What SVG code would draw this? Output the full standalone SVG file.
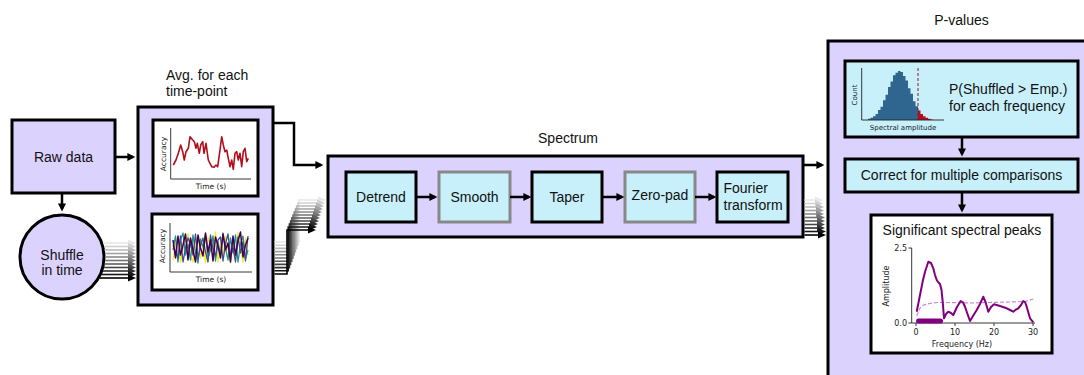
<svg xmlns="http://www.w3.org/2000/svg" width="1084" height="375" viewBox="0 0 1084 375">
<style>
.lbl{font-family:"Liberation Sans",Arial,sans-serif;font-size:14px;fill:#111}
.mid{text-anchor:middle}
.box{fill:#dcd2fe;stroke:#000;stroke-width:3}
.cy{fill:#c8f0fa;stroke:#000;stroke-width:3}
.cyg{fill:#c8f0fa;stroke:#888;stroke-width:3}
.wh{fill:#fff;stroke:#000;stroke-width:3}
.ax{fill:none;stroke:#222;stroke-width:0.9}
.tk{font-family:"DejaVu Sans",sans-serif;font-size:8px;fill:#222}
.con{fill:none;stroke:#000;stroke-width:2.5}
</style>
<defs>
<marker id="ah" viewBox="0 0 10 10" refX="7" refY="5" markerWidth="9" markerHeight="8" markerUnits="userSpaceOnUse" orient="auto">
<path d="M0,0 L10,5 L0,10 z" fill="#000"/>
</marker>
</defs>
<g id="raw-data">
<rect class="box" x="12" y="120" width="103" height="73"/>
<text class="lbl mid" x="63.5" y="162">Raw data</text>
</g>
<g id="shuffle">
<circle class="box" cx="62" cy="257" r="42"/>
<text class="lbl mid" x="62" y="259.5">Shuffle</text>
<text class="lbl mid" x="62" y="274.5">in time</text>
</g>
<g id="avg">
<text class="lbl" x="166" y="80">Avg. for each</text>
<text class="lbl" x="166" y="96">time-point</text>
<rect class="box" x="138" y="107" width="135" height="198"/>
</g>
<g id="plot-empirical">
<rect class="wh" x="153" y="120" width="105" height="76"/>
<path class="ax" d="M170.7,128 V179 H251"/>
<text class="tk" style="font-size:7.5px" transform="translate(165.5,154) rotate(-90)" text-anchor="middle">Accuracy</text>
<text class="tk" style="font-size:7.5px" x="211" y="189" text-anchor="middle">Time (s)</text>
<polyline fill="none" stroke="#b0101e" stroke-width="1.6" stroke-linejoin="round" points="173.3,165 176,160 178.3,153.3 180.7,145 182.7,151.7 184.3,160 186,151.7 188.3,148.3 190,136.7 192.7,140 194.3,141.7 196,148.3 197.3,143.3 199.3,153.3 200.7,145 202.7,141.7 204,153.3 206,143.3 208.3,160 210,163.3 211.7,166.7 214,167.3 216,165 217.7,166.7 220,150 221.7,136.7 223.3,145 225,151.7 226.7,150 228.3,158.3 230,166.7 231.7,160 233.3,169.3 235,153.3 236.7,151.7 238.3,160 240,153.3 241.7,166.7 243.3,151.7 245,148.3 246.7,161.7 248.3,158.3"/>
</g>
<g id="plot-shuffled">
<rect class="wh" x="152" y="214" width="106" height="76"/>
<path class="ax" d="M170,223 V272 H252"/>
<text class="tk" style="font-size:7.5px" transform="translate(164.5,246) rotate(-90)" text-anchor="middle">Accuracy</text>
<text class="tk" style="font-size:7.5px" x="211" y="282" text-anchor="middle">Time (s)</text>
<g fill="none" stroke-width="1.3" stroke-linejoin="round">
<polyline stroke="#fde725" points="173,260 175.5,245 178,238 180.5,262 183,250 185.5,240 188,234 190.5,256 193,262 195.5,241 198,236 200.5,258 203,245 205.5,263 208,237 210.5,248 213,255 215.5,232 218,262 220.5,244 223,257 225.5,236 228,250 230.5,263 233,240 235.5,258 238,233 240.5,247 243,262 245.5,238 248,255"/>
<polyline stroke="#21918c" points="173,250 175.5,236 178,262 180.5,240 183,233 185.5,255 188,244 190.5,260 193,235 195.5,252 198,263 200.5,239 203,247 205.5,234 208,258 210.5,250 213,236 215.5,261 218,242 220.5,255 223,233 225.5,248 228,260 230.5,238 233,253 235.5,235 238,262 240.5,244 243,236 245.5,259 248,250"/>
<polyline stroke="#3b528b" points="173,245 175.5,252 178,258 180.5,236 183,262 185.5,248 188,238 190.5,244 193,255 195.5,234 198,259 200.5,246 203,238 205.5,252 208,262 210.5,235 213,249 215.5,256 218,240 220.5,237 223,261 225.5,244 228,234 230.5,255 233,248 235.5,262 238,237 240.5,253 243,242 245.5,261 248,236"/>
<polyline stroke="#440154" stroke-width="1.5" points="173,240 175.5,258 178,236 180.5,255 183,245 185.5,234 188,260 190.5,238 193,250 195.5,262 198,235 200.5,248 203,256 205.5,233 208,252 210.5,240 213,261 215.5,237 218,246 220.5,258 223,234 225.5,250 228,243 230.5,262 233,236 235.5,255 238,241 240.5,232 243,257 245.5,245 248,238"/>
</g>
</g>
<g id="spectrum">
<text class="lbl mid" x="568" y="142.5">Spectrum</text>
<rect class="box" x="328" y="156" width="475" height="81"/>
</g>
<g id="detrend"><rect class="cy" x="346" y="172" width="70" height="50"/><text class="lbl mid" x="381" y="201.5">Detrend</text></g>
<g id="smooth"><rect class="cyg" x="439" y="172" width="71" height="50"/><text class="lbl mid" x="474.5" y="201.5">Smooth</text></g>
<g id="taper"><rect class="cy" x="532" y="172" width="70" height="50"/><text class="lbl mid" x="567" y="201.5">Taper</text></g>
<g id="zero-pad"><rect class="cyg" x="625" y="172" width="70" height="50"/><text class="lbl mid" x="660" y="200">Zero-pad</text></g>
<g id="fourier"><rect class="cy" x="717" y="172" width="71" height="50"/><text class="lbl" x="723.5" y="193">Fourier</text><text class="lbl" x="723.5" y="209.5">transform</text></g>
<g id="p-values">
<text class="lbl mid" x="961.5" y="24.5">P-values</text>
<rect class="box" x="828" y="41" width="300" height="400"/>
</g>
<g id="histogram">
<rect class="cy" x="845" y="61" width="233" height="76"/>
<path fill="#2f6690" d="M868,120 V118.8 H870.5 V117.8 H873 V116.3 H875.5 V113.9 H878 V110.1 H880.5 V106.7 H883 V100.2 H885.5 V94.8 H888 V87 H890.5 V81.6 H893 V75.2 H895.5 V72.7 H898 V71 H900.5 V72.1 H903 V76 H905.5 V80.5 H908 V88.2 H910.5 V93.7 H913 V101.2 H915.5 V106.2 H918 V120 Z"/>
<path fill="#b0101e" d="M918,120 V110.6 H920.5 V113.9 H923 V116.3 H925.5 V117.8 H928 V118.8 H930.5 V119.4 H933 V120 Z"/>
<line x1="918" y1="68" x2="918" y2="120" stroke="#a01020" stroke-width="1" stroke-dasharray="3,2"/>
<path class="ax" d="M861.7,68 V120 H944"/>
<text class="tk" style="font-size:7px" transform="translate(856.5,95) rotate(-90)" text-anchor="middle">Count</text>
<text class="tk" style="font-size:7px" x="903" y="130" text-anchor="middle">Spectral amplitude</text>
<text class="lbl" x="949" y="93.5">P(Shuffled &gt; Emp.)</text>
<text class="lbl" x="949" y="111">for each frequency</text>
</g>
<g id="correct">
<rect class="cy" x="845" y="159" width="233" height="33"/>
<text class="lbl mid" x="961.5" y="180">Correct for multiple comparisons</text>
</g>
<g id="significant">
<rect class="wh" x="871" y="215" width="181" height="138"/>
<text class="lbl mid" x="962" y="235">Significant spectral peaks</text>
<path class="ax" d="M911.7,248 V323 H1035 M908.5,248 H911.7 M908.5,323 H911.7 M916,323 V326 M955,323 V326 M994,323 V326 M1033,323 V326"/>
<text class="tk" x="907" y="251" text-anchor="end">2.5</text>
<text class="tk" x="907" y="326" text-anchor="end">0.0</text>
<text class="tk" x="916" y="335" text-anchor="middle">0</text>
<text class="tk" x="955" y="335" text-anchor="middle">10</text>
<text class="tk" x="994" y="335" text-anchor="middle">20</text>
<text class="tk" x="1033" y="335" text-anchor="middle">30</text>
<text class="tk" transform="translate(888.5,286) rotate(-90)" text-anchor="middle">Amplitude</text>
<text class="tk" x="962" y="346.5" text-anchor="middle">Frequency (Hz)</text>
<polyline fill="none" stroke="#c888d0" stroke-width="1.2" stroke-dasharray="4,2" points="916.7,316 920,308 923.3,305 930,303.5 937,302.5 950,302.5 970,303 990,302.5 1010,302 1025,301.5 1033.3,299"/>
<polyline fill="none" stroke="#800080" stroke-width="2" stroke-linejoin="round" points="916.7,311.7 920,295 923,280 925,272 928.3,261.7 931,263 933.3,268.3 935,275 936.7,280 938.5,282.5 940,284 941.5,290 942.7,301.7 944,318.3 946,314 948.3,311.7 951,313 953.3,315 957,307 960.7,301 963,302.5 965,306.7 967.5,314 970,321 973,316 976.7,310 980,304 983.3,296.7 985.5,302 988.3,311.7 991,307 994,304.3 1000,306 1006.7,308.3 1010,310 1013.3,311.7 1016,309.5 1018.3,308.3 1021,305 1023.3,301 1025,302 1026.7,306.7 1028.5,313 1030,318.3 1033.3,322.3"/>
<line x1="918.5" y1="321" x2="940.5" y2="321" stroke="#800080" stroke-width="5" stroke-linecap="round"/>
</g>
<g id="connectors">
<path class="con" d="M115,157 H133" marker-end="url(#ah)"/>
<path class="con" d="M62,193 V209" marker-end="url(#ah)"/>
<path class="con" d="M273,123 H294 V165 H321" marker-end="url(#ah)"/>
<path class="con" d="M416,197 H435" marker-end="url(#ah)"/>
<path class="con" d="M510,197 H529" marker-end="url(#ah)"/>
<path class="con" d="M602,197 H622" marker-end="url(#ah)"/>
<path class="con" d="M695,197 H714" marker-end="url(#ah)"/>
<path class="con" d="M803,165 H822" marker-end="url(#ah)"/>
<path class="con" d="M962,137 V154" marker-end="url(#ah)"/>
<path class="con" d="M962,192 V210" marker-end="url(#ah)"/>
<g id="shuffle-lines" stroke-width="1.6" fill="none">
<g stroke="#e8e8e8" fill="#e8e8e8"><path fill="none" d="M103,243 H129"/><polygon stroke="none" points="128,239.5 136,243 128,246.5"/></g>
<g stroke="#d1d1d1" fill="#d1d1d1"><path fill="none" d="M104,246.5 H129"/><polygon stroke="none" points="128,243 136,246.5 128,250"/></g>
<g stroke="#b9b9b9" fill="#b9b9b9"><path fill="none" d="M104.5,250 H129"/><polygon stroke="none" points="128,246.5 136,250 128,253.5"/></g>
<g stroke="#a2a2a2" fill="#a2a2a2"><path fill="none" d="M105,253.5 H129"/><polygon stroke="none" points="128,250 136,253.5 128,257"/></g>
<g stroke="#8b8b8b" fill="#8b8b8b"><path fill="none" d="M105,257 H129"/><polygon stroke="none" points="128,253.5 136,257 128,260.5"/></g>
<g stroke="#747474" fill="#747474"><path fill="none" d="M105,260.5 H129"/><polygon stroke="none" points="128,257 136,260.5 128,264"/></g>
<g stroke="#5d5d5d" fill="#5d5d5d"><path fill="none" d="M104.5,264 H129"/><polygon stroke="none" points="128,260.5 136,264 128,267.5"/></g>
<g stroke="#464646" fill="#464646"><path fill="none" d="M104,267.5 H129"/><polygon stroke="none" points="128,264 136,267.5 128,271"/></g>
<g stroke="#2e2e2e" fill="#2e2e2e"><path fill="none" d="M103,271 H129"/><polygon stroke="none" points="128,267.5 136,271 128,274.5"/></g>
<g stroke="#171717" fill="#171717"><path fill="none" d="M101.5,274.5 H129"/><polygon stroke="none" points="128,271 136,274.5 128,278"/></g>
<g stroke="#000" fill="#000"><path fill="none" d="M99.5,278 H129"/><polygon stroke="none" points="128,274.5 136,278 128,281.5"/></g>
</g>
<g id="avg-spectrum-lines" stroke-width="1.6" fill="none">
<g stroke="#e8e8e8" fill="#e8e8e8"><path fill="none" d="M274.5,242 H299 V200 H319"/><polygon stroke="none" points="318,196.5 326,200 318,203.5"/></g>
<g stroke="#d1d1d1" fill="#d1d1d1"><path fill="none" d="M274.5,245.2 H297.8 V203 H318"/><polygon stroke="none" points="317,199.5 325,203 317,206.5"/></g>
<g stroke="#b9b9b9" fill="#b9b9b9"><path fill="none" d="M274.5,248.4 H296.6 V206 H317"/><polygon stroke="none" points="316,202.5 324,206 316,209.5"/></g>
<g stroke="#a2a2a2" fill="#a2a2a2"><path fill="none" d="M274.5,251.6 H295.4 V209 H316"/><polygon stroke="none" points="315,205.5 323,209 315,212.5"/></g>
<g stroke="#8b8b8b" fill="#8b8b8b"><path fill="none" d="M274.5,254.8 H294.2 V212 H315"/><polygon stroke="none" points="314,208.5 322,212 314,215.5"/></g>
<g stroke="#747474" fill="#747474"><path fill="none" d="M274.5,258 H293 V215 H314"/><polygon stroke="none" points="313,211.5 321,215 313,218.5"/></g>
<g stroke="#5d5d5d" fill="#5d5d5d"><path fill="none" d="M274.5,261.2 H291.8 V218 H313"/><polygon stroke="none" points="312,214.5 320,218 312,221.5"/></g>
<g stroke="#464646" fill="#464646"><path fill="none" d="M274.5,264.4 H290.6 V221 H312"/><polygon stroke="none" points="311,217.5 319,221 311,224.5"/></g>
<g stroke="#2e2e2e" fill="#2e2e2e"><path fill="none" d="M274.5,267.6 H289.4 V224 H311"/><polygon stroke="none" points="310,220.5 318,224 310,227.5"/></g>
<g stroke="#171717" fill="#171717"><path fill="none" d="M274.5,270.8 H288.2 V227 H310"/><polygon stroke="none" points="309,223.5 317,227 309,230.5"/></g>
<g stroke="#000" fill="#000"><path fill="none" d="M274.5,274 H287 V230 H309"/><polygon stroke="none" points="308,226.5 316,230 308,233.5"/></g>
</g>
<g id="spectrum-pvalue-lines" stroke-width="1.6" fill="none">
<g stroke="#e8e8e8" fill="#e8e8e8"><path fill="none" d="M804.5,200 H816"/><polygon stroke="none" points="815,196.5 823,200 815,203.5"/></g>
<g stroke="#d1d1d1" fill="#d1d1d1"><path fill="none" d="M804.5,203.5 H816"/><polygon stroke="none" points="815,200 823,203.5 815,207"/></g>
<g stroke="#b9b9b9" fill="#b9b9b9"><path fill="none" d="M804.5,207 H817"/><polygon stroke="none" points="816,203.5 824,207 816,210.5"/></g>
<g stroke="#a2a2a2" fill="#a2a2a2"><path fill="none" d="M804.5,210.5 H817"/><polygon stroke="none" points="816,207 824,210.5 816,214"/></g>
<g stroke="#8b8b8b" fill="#8b8b8b"><path fill="none" d="M804.5,214 H817"/><polygon stroke="none" points="816,210.5 824,214 816,217.5"/></g>
<g stroke="#747474" fill="#747474"><path fill="none" d="M804.5,217.5 H818"/><polygon stroke="none" points="817,214 825,217.5 817,221"/></g>
<g stroke="#5d5d5d" fill="#5d5d5d"><path fill="none" d="M804.5,221 H818"/><polygon stroke="none" points="817,217.5 825,221 817,224.5"/></g>
<g stroke="#464646" fill="#464646"><path fill="none" d="M804.5,224.5 H818"/><polygon stroke="none" points="817,221 825,224.5 817,228"/></g>
<g stroke="#2e2e2e" fill="#2e2e2e"><path fill="none" d="M804.5,228 H818"/><polygon stroke="none" points="817,224.5 825,228 817,231.5"/></g>
<g stroke="#171717" fill="#171717"><path fill="none" d="M804.5,231.5 H819"/><polygon stroke="none" points="818,228 826,231.5 818,235"/></g>
<g stroke="#000" fill="#000"><path fill="none" d="M804.5,235 H819"/><polygon stroke="none" points="818,231.5 826,235 818,238.5"/></g>
</g>
</g>
</svg>
